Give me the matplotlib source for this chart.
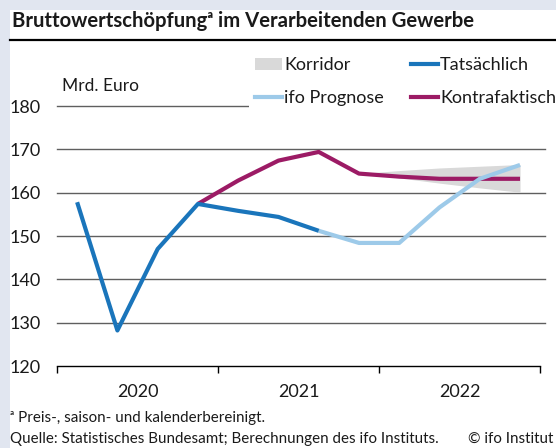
import matplotlib
matplotlib.use('Agg')
import matplotlib.pyplot as plt
from matplotlib.patches import Rectangle, Patch
from matplotlib.lines import Line2D

plt.rcParams['font.family'] = ['Lato', 'DejaVu Sans']

# Quartale 2020Q1 .. 2022Q4 -> 0..11
quartale = list(range(12))
jahre = ['2020', '2021', '2022']

# Werte in Mrd. Euro
tats_x = [0, 1, 2, 3, 4, 5, 6]
tats_y = [157.8, 128.2, 147.0, 157.4, 155.8, 154.4, 151.2]

prog_x = [6, 7, 8, 9, 10, 11]
prog_y = [151.2, 148.4, 148.4, 156.6, 163.2, 166.4]

kontra_x = [3, 4, 5, 6, 7, 8, 9, 10, 11]
kontra_y = [157.4, 162.8, 167.4, 169.4, 164.4, 163.7, 163.2, 163.2, 163.2]

korr_x = [7, 8, 9, 10, 11]
korr_oben = [164.4, 165.1, 165.7, 166.1, 166.5]
korr_unten = [164.4, 163.4, 162.2, 161.1, 160.1]

yticks = [120, 130, 140, 150, 160, 170, 180]

c_tats = '#1a75bb'
c_prog = '#9dcae9'
c_kontra = '#9c1b65'
c_korr = '#d9d9d9'
txt = '#1a1a1a'
fs = 13

W, H = 556, 448
fig = plt.figure(figsize=(W / 100, H / 100), dpi=100)
fig.patch.set_facecolor('#e1e6f0')
fig.patches.append(Rectangle((10 / W, 0), 1, 1 - 10 / H, transform=fig.transFigure,
                             facecolor='white', edgecolor='none', zorder=-5))

# Titel + Linie
fig.text(12 / W, 1 - 21 / H, 'Bruttowertschöpfungᵃ im Verarbeitenden Gewerbe',
         fontsize=14.6, fontweight='bold', color=txt, va='center', ha='left')
fig.add_artist(Line2D([10 / W, 1], [1 - 40 / H, 1 - 40 / H], transform=fig.transFigure,
                      color='black', lw=1.6))

ax = fig.add_axes([57 / W, 82 / H, (545 - 57) / W, (366 - 106) / H])
ax.set_facecolor('none')
ax.set_xlim(-0.5, 11.62)
ax.set_ylim(120, 180)
for s in ax.spines.values():
    s.set_visible(False)

for y in yticks[1:]:
    ax.axhline(y, color='#5f5f5f', lw=1.0, zorder=1, clip_on=False)
# x-Achse
ax.plot([-0.5, 11.5], [120, 120], color='black', lw=1.0, clip_on=False, zorder=2)

ax.set_yticks(yticks)
ax.tick_params(axis='y', length=0, pad=12, labelsize=fs, labelcolor=txt)
ax.set_xticks([-0.5, 3.5, 7.5, 11.5])
ax.set_xticklabels([])
ax.set_xticks([1.5, 5.5, 9.5], minor=True)
ax.set_xticklabels(jahre, minor=True)
ax.tick_params(axis='x', which='major', length=5, width=1.0, color='black', direction='out')
ax.tick_params(axis='x', which='minor', length=0, pad=13, labelsize=fs, labelcolor=txt)

ax.fill_between(korr_x, korr_unten, korr_oben, color=c_korr, lw=0, zorder=2)
ax.plot(kontra_x, kontra_y, color=c_kontra, lw=3, zorder=3, solid_capstyle='butt')
ax.plot(prog_x, prog_y, color=c_prog, lw=3, zorder=4, solid_capstyle='butt')
ax.plot(tats_x, tats_y, color=c_tats, lw=3, zorder=5, solid_capstyle='butt')

fig.text(62 / W, 1 - 86 / H, 'Mrd. Euro', fontsize=12.5, color=txt, va='center', ha='left')

handles = [Patch(facecolor=c_korr, edgecolor='none'),
           Line2D([], [], color=c_prog, lw=3),
           Line2D([], [], color=c_tats, lw=3),
           Line2D([], [], color=c_kontra, lw=3)]
labels = ['Korridor', 'ifo Prognose', 'Tatsächlich', 'Kontrafaktisch']
leg = fig.legend(handles, labels, ncol=2, loc='upper left',
                 bbox_to_anchor=(249 / W, 1 - 51 / H), bbox_transform=fig.transFigure,
                 frameon=True, facecolor='white', edgecolor='none', framealpha=1,
                 fancybox=False, borderpad=0.35, handlelength=1.5, handletextpad=0.1,
                 columnspacing=1.5, labelspacing=0.95, fontsize=fs, borderaxespad=0)
for t in leg.get_texts():
    t.set_color(txt)

fig.text(10 / W, 1 - 418 / H, 'ᵃ Preis-, saison- und kalenderbereinigt.',
         fontsize=10.9, color=txt, va='center', ha='left')
fig.text(10 / W, 1 - 439 / H, 'Quelle: Statistisches Bundesamt; Berechnungen des ifo Instituts.',
         fontsize=10.9, color=txt, va='center', ha='left')
fig.text(553 / W, 1 - 439 / H, '© ifo Institut', fontsize=10.9, color=txt,
         va='center', ha='right')

fig.savefig('out.png', dpi=100)
